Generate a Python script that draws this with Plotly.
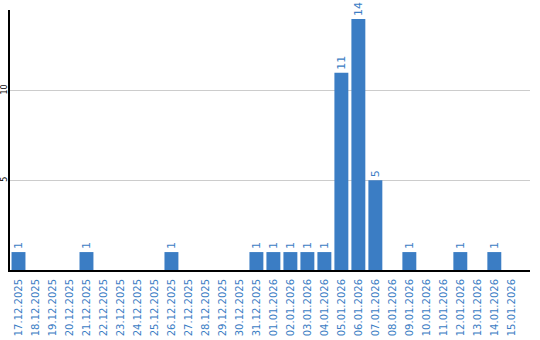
import plotly.graph_objects as go

dates = ["17.12.2025","18.12.2025","19.12.2025","20.12.2025","21.12.2025","22.12.2025",
         "23.12.2025","24.12.2025","25.12.2025","26.12.2025","27.12.2025","28.12.2025",
         "29.12.2025","30.12.2025","31.12.2025","01.01.2026","02.01.2026","03.01.2026",
         "04.01.2026","05.01.2026","06.01.2026","07.01.2026","08.01.2026","09.01.2026",
         "10.01.2026","11.01.2026","12.01.2026","13.01.2026","14.01.2026","15.01.2026"]
counts = [1,0,0,0,1,0,0,0,0,1,0,0,0,0,1,1,1,1,1,11,14,5,0,1,0,0,1,0,1,0]

blue = "#3b7dc4"
labels = [str(v) if v > 0 else "" for v in counts]

fig = go.Figure(go.Bar(
    x=list(range(len(dates))), y=counts, marker_color=blue, marker_line_width=0,
    text=labels, textposition="outside", textangle=-90,
    textfont=dict(color=blue, size=11, family="DejaVu Sans"),
    cliponaxis=False,
))
fig.update_layout(
    width=540, height=340, margin=dict(l=10, r=10, t=10, b=70),
    paper_bgcolor="white", plot_bgcolor="white", bargap=0.18, showlegend=False,
    font=dict(family="DejaVu Sans"),
)
fig.update_xaxes(
    tickmode="array", tickvals=list(range(len(dates))), ticktext=dates,
    tickangle=-90, tickfont=dict(color=blue, size=10), range=[-0.5, 30.1],
    showline=True, linecolor="black", linewidth=2, showgrid=False,
    ticks="outside", ticklen=3, tickcolor="rgba(0,0,0,0)", automargin=False,
)
fig.update_yaxes(
    range=[0, 14.5], tickvals=[5, 10], tickangle=-90,
    tickfont=dict(color="black", size=8), showgrid=True, gridcolor="#cccccc",
    showline=True, linecolor="black", linewidth=2, zeroline=False, ticks="",
    automargin=False, ticklabelstandoff=-2,
)
fig.write_html("out.html")
